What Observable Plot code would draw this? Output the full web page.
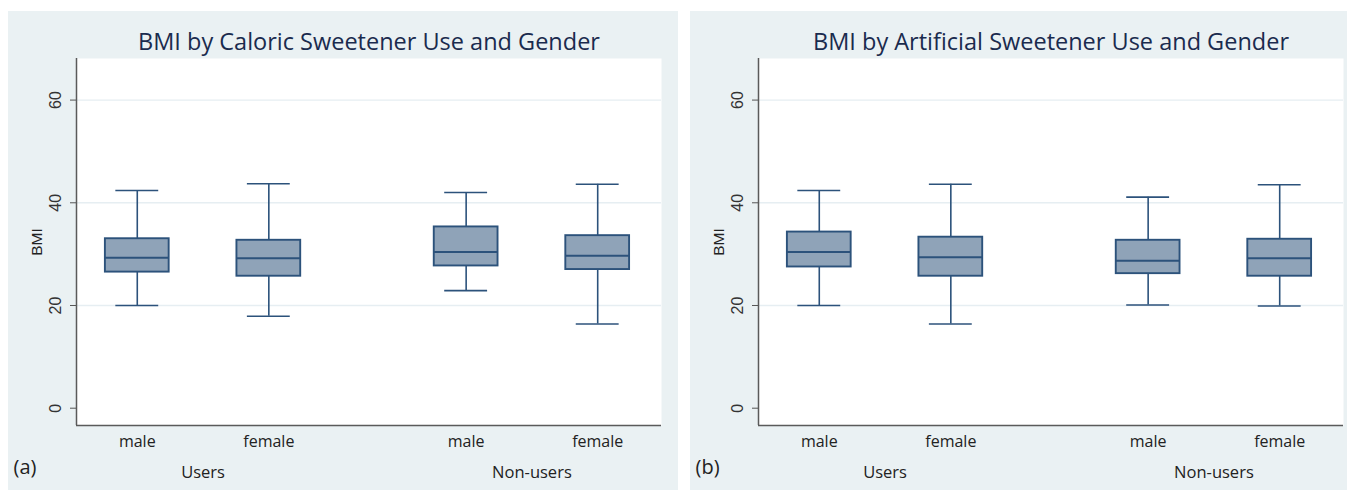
<!DOCTYPE html>
<html>
<head>
<meta charset="utf-8">
<script src="https://cdn.jsdelivr.net/npm/d3@7"></script>
<script src="https://cdn.jsdelivr.net/npm/@observablehq/plot@0.6"></script>
<style>
  html, body { margin: 0; padding: 0; background: #ffffff; width: 1347px; height: 490px; overflow: hidden; }
  .panel { position: absolute; top: 11px; width: 670px; height: 479px; background: #eaf1f3; }
  .panel svg { display: block; }
</style>
</head>
<body>
<div id="pa" class="panel" style="left:8px"></div>
<div id="pb" class="panel" style="left:690px"></div>
<script>
// ---- data ----
const groups = ["Users", "Non-users"];
const genders = ["male", "female"];
const yTicks = [0, 20, 40, 60];

const titleA = "BMI by Caloric Sweetener Use and Gender";
const caloricLow  = [20.0, 17.9, 22.9, 16.4];
const caloricQ1   = [26.5, 25.7, 27.7, 27.0];
const caloricMed  = [29.3, 29.2, 30.4, 29.7];
const caloricQ3   = [33.0, 32.7, 35.3, 33.6];
const caloricHigh = [42.4, 43.7, 42.0, 43.6];

const titleB = "BMI by Artificial Sweetener Use and Gender";
const artificialLow  = [20.0, 16.4, 20.1, 19.9];
const artificialQ1   = [27.5, 25.7, 26.2, 25.7];
const artificialMed  = [30.4, 29.4, 28.7, 29.2];
const artificialQ3   = [34.3, 33.3, 32.7, 32.9];
const artificialHigh = [42.4, 43.6, 41.1, 43.5];

// ---- drawing ----
const boxStroke = "#2c527b";
const boxFill = "#8fa3b8";
const groupGap = 2.5;      // layout: distance between groups in box-step units
const boxHalf = 0.2424;    // layout: half box width in box-step units
const capHalf = 0.163;

function rowsFrom(low, q1, med, q3, high) {
  const rows = [];
  groups.forEach((g, gi) => genders.forEach((s, si) => {
    const i = gi * 2 + si;
    rows.push({group: g, gender: s, pos: gi * groupGap + si,
      low: low[i], q1: q1[i], med: med[i], q3: q3[i], high: high[i]});
  }));
  return rows;
}

function panel(title, tag, rows) {
  const xDomain = [-0.462, 3.985];
  const yDomain = [-3.37, 68.1];
  const groupMid = groups.map((g, gi) => ({group: g, pos: gi * groupGap + 0.5}));
  const sans = "Liberation Sans, Arial, sans-serif";
  const open = "Open Sans, sans-serif";
  return Plot.plot({
    width: 670,
    height: 479,
    marginLeft: 68,
    marginRight: 17,
    marginTop: 47,
    marginBottom: 65,
    style: {background: "transparent", overflow: "visible"},
    x: {domain: xDomain, axis: null},
    y: {domain: yDomain, axis: null},
    marks: [
      Plot.frame({fill: "white", stroke: null}),
      Plot.ruleY([20, 40, 60], {stroke: "#e6eef2", strokeWidth: 1.4}),
      Plot.axisY({ticks: yTicks, tickSize: 6, tickFormat: () => "", stroke: "#555", label: null}),
      Plot.text(yTicks, {y: d => d, text: d => String(d), frameAnchor: "left", dx: -21, rotate: -90,
        lineAnchor: "middle", textAnchor: "middle", fontSize: 16, fontFamily: sans, fill: "#333"}),
      Plot.text(["BMI"], {frameAnchor: "left", dx: -39, rotate: -90, lineAnchor: "middle", textAnchor: "middle",
        fontSize: 15.5, fontFamily: sans, fill: "#222"}),
      // whiskers
      Plot.ruleX(rows, {x: "pos", y1: "q3", y2: "high", stroke: boxStroke, strokeWidth: 1.6}),
      Plot.ruleX(rows, {x: "pos", y1: "low", y2: "q1", stroke: boxStroke, strokeWidth: 1.6}),
      Plot.ruleY(rows, {y: "high", x1: d => d.pos - capHalf, x2: d => d.pos + capHalf, stroke: boxStroke, strokeWidth: 1.6}),
      Plot.ruleY(rows, {y: "low", x1: d => d.pos - capHalf, x2: d => d.pos + capHalf, stroke: boxStroke, strokeWidth: 1.6}),
      // boxes
      Plot.rect(rows, {x1: d => d.pos - boxHalf, x2: d => d.pos + boxHalf, y1: "q1", y2: "q3",
        fill: boxFill, stroke: boxStroke, strokeWidth: 1.9}),
      Plot.ruleY(rows, {y: "med", x1: d => d.pos - boxHalf, x2: d => d.pos + boxHalf, stroke: boxStroke, strokeWidth: 2}),
      // axis lines
      Plot.ruleX([xDomain[0]], {stroke: "#5a5a5a", strokeWidth: 1.5}),
      Plot.ruleY([yDomain[0]], {stroke: "#5a5a5a", strokeWidth: 1.5}),
      // category labels
      Plot.text(rows, {x: "pos", text: "gender", frameAnchor: "bottom", dy: 16, lineAnchor: "middle",
        fontSize: 16, fontFamily: open, fill: "#222"}),
      Plot.text(groupMid, {x: "pos", text: "group", frameAnchor: "bottom", dy: 47, lineAnchor: "middle",
        fontSize: 16.5, fontFamily: open, fill: "#222"}),
      Plot.text([tag], {frameAnchor: "bottom-left", dx: -63, dy: 42, textAnchor: "start", lineAnchor: "middle",
        fontSize: 20, fontFamily: open, fill: "#222"}),
      // title
      Plot.text([title], {frameAnchor: "top", dy: -16, lineAnchor: "middle", fontSize: 23.5, fontFamily: open, fill: "#1a2b4e"})
    ]
  });
}

document.getElementById("pa").append(panel(titleA, "(a)", rowsFrom(caloricLow, caloricQ1, caloricMed, caloricQ3, caloricHigh)));
document.getElementById("pb").append(panel(titleB, "(b)", rowsFrom(artificialLow, artificialQ1, artificialMed, artificialQ3, artificialHigh)));
</script>
</body>
</html>
